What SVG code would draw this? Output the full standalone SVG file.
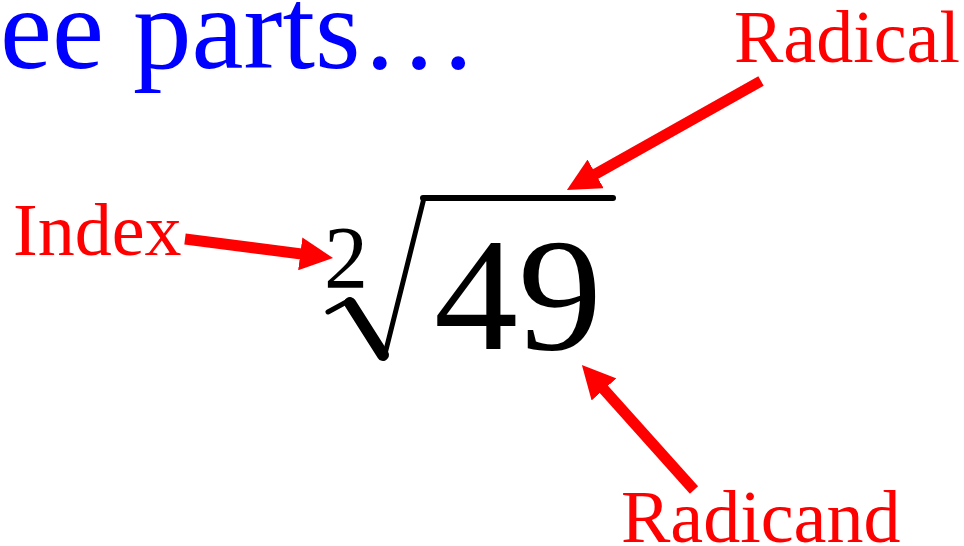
<svg xmlns="http://www.w3.org/2000/svg" width="964" height="546" viewBox="0 0 964 546">
<style>
.t{font-family:"Liberation Serif","Times New Roman",serif}
.title{fill:#0000ff;font-size:117px}
.lbl{fill:#ff0000;font-size:74px}
.math{fill:#000}
.arr{stroke:#ff0000;stroke-width:11;fill:none;marker-end:url(#ah)}
.rad{stroke:#000;fill:none;stroke-linecap:round}
</style>
<defs>
<marker id="ah" viewBox="0 0 10 10" refX="4.5" refY="5" markerWidth="3" markerHeight="3" orient="auto">
<path d="M0,0 L10,5 L0,10 Z" fill="#ff0000"/>
</marker>
</defs>
<rect width="964" height="546" fill="#fff"/>
<g id="title"><text class="t title" x="0" y="68">ee parts…</text></g>
<g id="expression">
<text class="t math" x="324" y="287" font-size="88">2</text>
<line class="rad" x1="328" y1="312" x2="350" y2="300" stroke-width="5"/>
<line class="rad" x1="350" y1="303" x2="383" y2="355" stroke-width="12" stroke-linecap="butt"/>
<line class="rad" x1="384" y1="358" x2="424" y2="198" stroke-width="5"/>
<line class="rad" x1="423" y1="198" x2="613" y2="198" stroke-width="6"/>
<text class="t math" x="434" y="349" font-size="160" textLength="168" lengthAdjust="spacingAndGlyphs">49</text>
</g>
<g id="radical"><text class="t lbl" x="734" y="62">Radical</text></g>
<g id="index"><text class="t lbl" x="13" y="255">Index</text></g>
<g id="radicand"><text class="t lbl" x="621" y="542">Radicand</text></g>
<g id="connectors">
<line class="arr" x1="761" y1="81" x2="582.7" y2="181.2"/>
<line class="arr" x1="185" y1="239" x2="315" y2="255.7"/>
<line class="arr" x1="694" y1="490" x2="594" y2="378.4"/>
</g>
</svg>
